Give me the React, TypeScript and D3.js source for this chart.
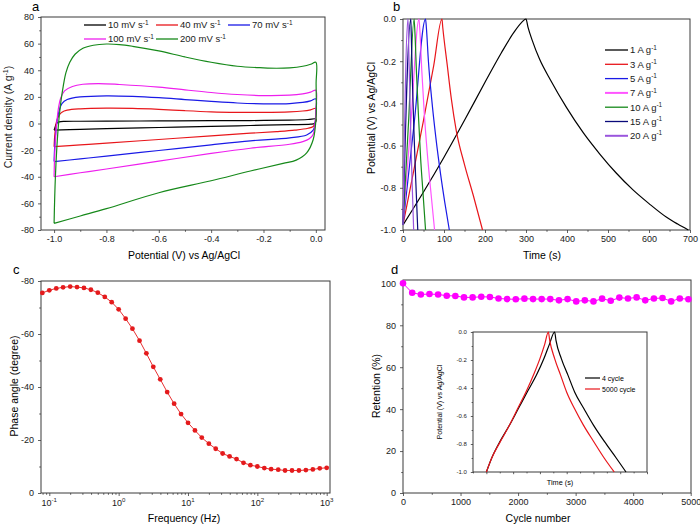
import React, { useEffect, useRef } from 'react';
import * as d3 from 'd3';

type Pt = [number, number];

// ---- panel a: CV loops (potential V, current density A/g)
const cvRates = ['10', '40', '70', '100', '200'];
const cvColors = ['#000000', '#e8161b', '#1a1ae6', '#ee1fee', '#16891a'];
const cv10: Pt[] = [
  [-1.0, -5.0], [-0.995, -2], [-0.99, 0.2], [-0.98, 1.2], [-0.96, 1.6], [-0.9, 1.7], [-0.8, 1.8],
  [-0.6, 1.9], [-0.4, 2.1], [-0.25, 2.2], [-0.1, 2.6], [-0.03, 3.0], [0.0, 3.4],
  [0.0, 1.5], [-0.005, 0], [-0.02, -0.5], [-0.1, -0.9], [-0.25, -1.5], [-0.4, -2.2],
  [-0.6, -3.0], [-0.8, -3.9], [-0.9, -4.4], [-1.0, -5.0],
];
const cv40: Pt[] = [
  [-1.0, -17.4], [-0.997, -8], [-0.99, 2], [-0.98, 6.5], [-0.97, 8.5], [-0.95, 10], [-0.9, 11],
  [-0.8, 11.5], [-0.7, 11.3], [-0.6, 10.6], [-0.5, 9.6], [-0.4, 8.8], [-0.3, 8.4], [-0.2, 8.3],
  [-0.1, 8.7], [-0.05, 9.4], [-0.02, 10.3], [0.0, 11.3],
  [0.0, 5], [-0.003, 0], [-0.01, -2.2], [-0.03, -3.6], [-0.08, -5], [-0.15, -6.1], [-0.25, -7.3],
  [-0.4, -9.3], [-0.6, -12], [-0.8, -14.8], [-0.9, -16.1], [-1.0, -17.4],
];
const cv70: Pt[] = [
  [-1.0, -28.6], [-0.997, -15], [-0.99, 0], [-0.98, 10], [-0.97, 15], [-0.95, 18], [-0.9, 20],
  [-0.8, 20.8], [-0.7, 20.4], [-0.6, 19.4], [-0.5, 18], [-0.4, 16.6], [-0.3, 15.4], [-0.2, 14.8],
  [-0.1, 15], [-0.05, 15.8], [-0.02, 17], [0.0, 18.5],
  [0.0, 8], [-0.003, 0], [-0.01, -5], [-0.035, -8.6], [-0.1, -10.8], [-0.25, -13], [-0.4, -16],
  [-0.6, -20.3], [-0.8, -24.5], [-0.9, -26.6], [-1.0, -28.6],
];
const cv100: Pt[] = [
  [-1.0, -40], [-0.997, -20], [-0.99, 0], [-0.983, 12], [-0.975, 19], [-0.96, 24.5], [-0.93, 27.8],
  [-0.89, 29.5], [-0.83, 30], [-0.75, 29.3], [-0.6, 27.3], [-0.5, 25.3], [-0.4, 23.3], [-0.3, 21.8],
  [-0.2, 21], [-0.1, 21.3], [-0.05, 22.3], [-0.02, 23.6], [0.0, 25],
  [0.0, 10], [-0.003, 0], [-0.01, -8], [-0.025, -11.5], [-0.05, -13.6], [-0.1, -15.6], [-0.25, -18.6],
  [-0.4, -22.5], [-0.6, -28.3], [-0.8, -34.2], [-0.9, -37], [-1.0, -40],
];
const cv200: Pt[] = [
  [-1.0, -75], [-0.995, -40], [-0.985, -5], [-0.975, 15], [-0.965, 28], [-0.955, 38], [-0.94, 46],
  [-0.92, 52], [-0.89, 56.5], [-0.85, 58.8], [-0.8, 59.7], [-0.75, 59.3], [-0.7, 58], [-0.6, 54.5],
  [-0.5, 50], [-0.4, 46], [-0.3, 43], [-0.2, 41.8], [-0.15, 41.5], [-0.1, 41.8], [-0.05, 43],
  [-0.02, 44.5], [0.0, 46],
  [0.001, 30], [0.001, 5], [-0.01, -12], [-0.035, -22], [-0.075, -27.5], [-0.125, -30], [-0.25, -35.7],
  [-0.4, -43], [-0.6, -52], [-0.8, -64], [-0.9, -69.5], [-1.0, -75],
];
const cvCurves = [cv10, cv40, cv70, cv100, cv200];

// ---- panel b: charge/discharge (time s, potential V)
const gcdLabels = ['1', '3', '5', '7', '10', '15', '20'];
const gcdColors = ['#000000', '#e8161b', '#1a1ae6', '#ff55ff', '#16891a', '#0a0a7a', '#9a55dd'];
const gcd1: Pt[] = [
  [0, -0.976], [50, -0.82], [100, -0.655], [150, -0.48], [200, -0.3], [240, -0.16], [270, -0.065],
  [290, -0.015], [300, 0], [305, -0.04], [315, -0.1], [333, -0.19], [360, -0.29], [399, -0.42],
  [440, -0.54], [480, -0.64], [520, -0.73], [561, -0.81], [600, -0.875], [643, -0.94],
  [670, -0.972], [696, -1.0],
];
const gcd3: Pt[] = [
  [0, -0.976], [25, -0.73], [50, -0.48], [75, -0.22], [95, 0], [97, -0.04], [108, -0.22],
  [118, -0.38], [130, -0.53], [150, -0.69], [172, -0.84], [194, -1.0],
];
const gcd5: Pt[] = [
  [0, -0.976], [28, -0.48], [55, 0], [57, -0.04], [62, -0.2], [70, -0.38], [80, -0.56],
  [92, -0.74], [102, -0.87], [113, -1.0],
];
const gcd7: Pt[] = [
  [0, -0.976], [20, -0.47], [39, 0], [41, -0.05], [46, -0.25], [52, -0.45], [59, -0.63],
  [67, -0.8], [77, -1.0],
];
const gcd10: Pt[] = [
  [0, -0.976], [14, -0.47], [27, 0], [29, -0.06], [33, -0.26], [38, -0.47], [43, -0.66],
  [49, -0.83], [55, -1.0],
];
const gcd15: Pt[] = [[0, -0.976], [19, 0], [20, -0.06], [23, -0.3], [27, -0.55], [31, -0.76], [36, -1.0]];
const gcd20: Pt[] = [[0, -0.976], [12, 0], [13, -0.06], [16, -0.3], [19, -0.55], [22, -0.76], [26, -1.0]];
const gcdCurves = [gcd1, gcd3, gcd5, gcd7, gcd10, gcd15, gcd20];

// ---- panel c: Bode phase
const freq = [
  0.0794, 0.1, 0.126, 0.158, 0.2, 0.251, 0.316, 0.398, 0.501, 0.631, 0.794, 1, 1.26, 1.58,
  2, 2.51, 3.16, 3.98, 5.01, 6.31, 7.94, 10, 12.6, 15.8, 20, 25.1, 31.6, 39.8, 50.1, 63.1,
  79.4, 100, 126, 158, 200, 251, 316, 398, 501, 631, 794, 1000,
];
const phase = [
  -75.5, -76.5, -77.2, -77.6, -77.9, -77.7, -77.4, -76.7, -75.6, -74, -72, -69.3, -65.8, -62,
  -57.5, -52.7, -47.6, -42.9, -38.1, -33.7, -29.8, -26.5, -23.6, -20.9, -18.6, -16.7, -14.9,
  -13.8, -12.8, -11.4, -10.5, -10.0, -9.4, -9.0, -8.8, -8.5, -8.5, -8.5, -8.65, -8.9, -9.3, -9.5,
];

// ---- panel d: cycling retention
const cycles = [
  0, 160, 310, 460, 610, 760, 910, 1060, 1210, 1360, 1510, 1660, 1810, 1960, 2110, 2260, 2410,
  2560, 2710, 2860, 3010, 3160, 3310, 3460, 3610, 3760, 3910, 4060, 4210, 4360, 4510, 4660, 4810, 4960,
];
const retention = [
  100, 95.5, 94.7, 94.9, 94.7, 94.1, 94.0, 93.3, 93.3, 93.6, 93.5, 92.8, 92.5, 92.4, 92.7, 92.5,
  92.5, 92.5, 91.9, 92.5, 91.4, 91.9, 91.4, 92.7, 91.7, 93.2, 92.8, 93.3, 91.9, 92.8, 93.0, 91.4,
  92.8, 92.4,
];
// inset: 4th vs 5000th cycle
const insetLabels = ['4 cycle', '5000 cycle'];
const insetColors = ['#000000', '#e8161b'];
const inset4: Pt[] = [
  [0, -1.0], [4, -0.9], [10, -0.785], [17, -0.67], [24, -0.545], [31, -0.42], [37.5, -0.306],
  [43, -0.19], [47, -0.09], [51, 0], [52, -0.06], [56, -0.19], [61, -0.31], [66, -0.43],
  [73, -0.55], [80, -0.665], [88, -0.78], [97, -0.9], [104.3, -1.0],
];
const inset5000: Pt[] = [
  [0, -1.0], [4, -0.9], [10, -0.79], [17, -0.67], [23.5, -0.545], [30, -0.42], [35.5, -0.3],
  [40, -0.19], [43.5, -0.09], [46.3, 0], [47.3, -0.06], [51, -0.19], [55.5, -0.31], [60, -0.43],
  [66, -0.55], [72.5, -0.665], [80, -0.78], [88, -0.9], [95.5, -1.0],
];
const insetCurves = [inset4, inset5000];

const FONT = '"Liberation Sans", Arial, Helvetica, sans-serif';
const AX = '#3a3a3a';
const TICK_FS = 9;
const TITLE_FS = 10.5;

const range = (a: number, b: number, s: number) => d3.range(a, b + s / 2, s).map((v) => +v.toFixed(6));

type Sel = d3.Selection<SVGGElement, unknown, null, undefined>;

function drawAxes(
  g: Sel,
  x: any,
  y: any,
  o: {
    xTicks: number[]; xMinor: number[]; yTicks: number[]; yMinor: number[];
    xFmt?: (d: any) => string; yFmt?: (d: any) => string; fs?: number; major?: number; minor?: number;
  },
) {
  const fs = o.fs ?? TICK_FS;
  const major = o.major ?? 3;
  const minor = o.minor ?? 1.8;
  const [left, right] = x.range();
  const [bottom, top] = y.range();
  const style = (a: Sel) => {
    a.select('.domain').remove();
    a.selectAll('line').attr('stroke', AX).attr('stroke-width', 0.8);
    a.selectAll('text').attr('fill', '#1a1a1a').attr('font-size', fs).attr('font-family', FONT);
  };
  const gx = g.append('g').attr('transform', `translate(0,${bottom})`)
    .call(d3.axisBottom(x).tickValues(o.xTicks).tickSize(major).tickPadding(3).tickFormat(o.xFmt ?? (() => '')) as any);
  style(gx);
  const gxm = g.append('g').attr('transform', `translate(0,${bottom})`)
    .call(d3.axisBottom(x).tickValues(o.xMinor).tickSize(minor).tickFormat(() => '') as any);
  style(gxm);
  const gy = g.append('g').attr('transform', `translate(${left},0)`)
    .call(d3.axisLeft(y).tickValues(o.yTicks).tickSize(major).tickPadding(4).tickFormat(o.yFmt ?? (() => '')) as any);
  style(gy);
  const gym = g.append('g').attr('transform', `translate(${left},0)`)
    .call(d3.axisLeft(y).tickValues(o.yMinor).tickSize(minor).tickFormat(() => '') as any);
  style(gym);
  g.append('rect')
    .attr('x', left).attr('y', top).attr('width', right - left).attr('height', bottom - top)
    .attr('fill', 'none').attr('stroke', AX).attr('stroke-width', 1);
}

// text with a superscript part: parts = [text, isSup]
function richText(g: Sel, x: number, y: number, fs: number, parts: [string, boolean][], opts: { anchor?: string; rotate?: boolean } = {}) {
  const t = g.append('text')
    .attr('font-family', FONT).attr('font-size', fs).attr('fill', '#1a1a1a')
    .attr('text-anchor', opts.anchor ?? 'start')
    .attr('transform', opts.rotate ? `translate(${x},${y}) rotate(-90)` : `translate(${x},${y})`);
  let shifted = false;
  parts.forEach(([s, isSup]) => {
    const ts = t.append('tspan').text(s);
    if (isSup && !shifted) { ts.attr('dy', -fs * 0.4).attr('font-size', fs * 0.68); shifted = true; }
    else if (!isSup && shifted) { ts.attr('dy', fs * 0.4); shifted = false; }
  });
  return t;
}

const fmt1 = (d: number) => d.toFixed(1);

const App: React.FC = () => {
  const ref = useRef<SVGSVGElement>(null);

  useEffect(() => {
    const svg = d3.select(ref.current);
    svg.selectAll('*').remove();
    const root = svg.append('g') as unknown as Sel;

    // ---------- a ----------
    {
      const g = root.append('g') as Sel;
      const x = d3.scaleLinear().domain([-1.05, 0.035]).range([41, 325]);
      const y = d3.scaleLinear().domain([-80, 80]).range([230, 17]);
      drawAxes(g, x, y, {
        xTicks: range(-1, 0, 0.2), xMinor: range(-0.9, -0.1, 0.2),
        yTicks: range(-80, 80, 20), yMinor: range(-70, 70, 20),
        xFmt: fmt1, yFmt: (d) => String(d),
      });
      const line = d3.line<Pt>().x((d) => x(d[0])).y((d) => y(d[1])).curve(d3.curveCatmullRom.alpha(0.5));
      cvCurves.forEach((c, i) => {
        g.append('path').attr('d', line(c)).attr('fill', 'none').attr('stroke', cvColors[i]).attr('stroke-width', 1.2);
      });
      const cols = [84, 156, 228];
      cvRates.forEach((r, i) => {
        const row = Math.floor(i / 3);
        const cx = cols[i % 3];
        const ly = 25 + row * 14;
        g.append('line').attr('x1', cx).attr('x2', cx + 22).attr('y1', ly).attr('y2', ly)
          .attr('stroke', cvColors[i]).attr('stroke-width', 1.3);
        richText(g, cx + 24, ly + 3.4, 9.5, [[`${r} mV s`, false], ['-1', true]]);
      });
      g.append('text').attr('x', 32).attr('y', 11).attr('font-family', FONT).attr('font-size', 13).text('a');
      richText(g, 12, 117, TITLE_FS, [['Current density (A g', false], ['-1', true], [')', false]], { anchor: 'middle', rotate: true });
      g.append('text').attr('x', 184).attr('y', 259).attr('text-anchor', 'middle')
        .attr('font-family', FONT).attr('font-size', TITLE_FS).text('Potential (V) vs Ag/AgCl');
    }

    // ---------- b ----------
    {
      const g = root.append('g') as Sel;
      const x = d3.scaleLinear().domain([0, 700]).range([403, 690]);
      const y = d3.scaleLinear().domain([-1, 0]).range([230, 19]);
      drawAxes(g, x, y, {
        xTicks: range(0, 700, 100), xMinor: range(50, 650, 100),
        yTicks: range(-1, 0, 0.2), yMinor: range(-0.9, -0.1, 0.2),
        xFmt: (d) => String(d), yFmt: fmt1,
      });
      const line = d3.line<Pt>().x((d) => x(d[0])).y((d) => y(d[1])).curve(d3.curveMonotoneX);
      gcdCurves.forEach((c, i) => {
        g.append('path').attr('d', line(c)).attr('fill', 'none').attr('stroke', gcdColors[i]).attr('stroke-width', 1.2);
      });
      gcdLabels.forEach((l, i) => {
        const ly = 50 + i * 14.3;
        g.append('line').attr('x1', 605).attr('x2', 628).attr('y1', ly).attr('y2', ly)
          .attr('stroke', gcdColors[i]).attr('stroke-width', i === 3 || i === 6 ? 2 : 1.3);
        richText(g, 630, ly + 3.4, 9.5, [[`${l} A g`, false], ['-1', true]]);
      });
      g.append('text').attr('x', 393).attr('y', 11).attr('font-family', FONT).attr('font-size', 13).text('b');
      g.append('text').attr('transform', 'translate(375,118) rotate(-90)').attr('text-anchor', 'middle')
        .attr('font-family', FONT).attr('font-size', TITLE_FS).text('Potential (V) vs Ag/AgCl');
      g.append('text').attr('x', 542).attr('y', 259).attr('text-anchor', 'middle')
        .attr('font-family', FONT).attr('font-size', TITLE_FS).text('Time (s)');
    }

    // ---------- c ----------
    {
      const g = root.append('g') as Sel;
      const x = d3.scaleLog().domain([0.0759, 1116]).range([41, 330]);
      const y = d3.scaleLinear().domain([0, -80]).range([493, 281]);
      const minorLog: number[] = [];
      [0.01, 0.1, 1, 10, 100].forEach((p) => [2, 3, 4, 5, 6, 7, 8, 9].forEach((m) => {
        const v = p * m;
        if (v > 0.0759 && v < 1116) minorLog.push(v);
      }));
      drawAxes(g, x, y, {
        xTicks: [0.1, 1, 10, 100, 1000], xMinor: minorLog,
        yTicks: range(-80, 0, 20), yMinor: range(-70, -10, 20),
        xFmt: () => '', yFmt: (d) => String(d),
      });
      ['-1', '0', '1', '2', '3'].forEach((e, i) => {
        richText(g, x(Math.pow(10, i - 1)), 506, TICK_FS, [['10', false], [e, true]], { anchor: 'middle' });
      });
      const pts: Pt[] = freq.map((f, i) => [f, phase[i]]);
      const line = d3.line<Pt>().x((d) => x(d[0])).y((d) => y(d[1]));
      g.append('path').attr('d', line(pts)).attr('fill', 'none').attr('stroke', '#e41a1c').attr('stroke-width', 0.9);
      g.selectAll('circle.p').data(pts).enter().append('circle')
        .attr('cx', (d) => x(d[0])).attr('cy', (d) => y(d[1])).attr('r', 2.4).attr('fill', '#e41a1c');
      g.append('text').attr('x', 13).attr('y', 274).attr('font-family', FONT).attr('font-size', 13).text('c');
      g.append('text').attr('transform', 'translate(18,386) rotate(-90)').attr('text-anchor', 'middle')
        .attr('font-family', FONT).attr('font-size', TITLE_FS).text('Phase angle (degree)');
      g.append('text').attr('x', 184).attr('y', 522).attr('text-anchor', 'middle')
        .attr('font-family', FONT).attr('font-size', TITLE_FS).text('Frequency (Hz)');
    }

    // ---------- d ----------
    {
      const g = root.append('g') as Sel;
      const x = d3.scaleLinear().domain([0, 5005]).range([403, 691]);
      const y = d3.scaleLinear().domain([0, 101.6]).range([493, 280]);
      drawAxes(g, x, y, {
        xTicks: range(0, 5000, 1000), xMinor: range(500, 4500, 1000),
        yTicks: range(0, 100, 20), yMinor: range(10, 90, 20),
        xFmt: (d) => String(d), yFmt: (d) => String(d),
      });
      const pts: Pt[] = cycles.map((c, i) => [c, retention[i]]);
      const line = d3.line<Pt>().x((d) => x(d[0])).y((d) => y(d[1]));
      g.append('path').attr('d', line(pts)).attr('fill', 'none').attr('stroke', '#ff00ff').attr('stroke-width', 1);
      g.selectAll('circle.p').data(pts).enter().append('circle')
        .attr('cx', (d) => x(d[0])).attr('cy', (d) => y(d[1])).attr('r', 3.3).attr('fill', '#ff00ff');
      g.append('text').attr('x', 391).attr('y', 274).attr('font-family', FONT).attr('font-size', 13).text('d');
      g.append('text').attr('transform', 'translate(380,386) rotate(-90)').attr('text-anchor', 'middle')
        .attr('font-family', FONT).attr('font-size', TITLE_FS).text('Retention (%)');
      g.append('text').attr('x', 538).attr('y', 522).attr('text-anchor', 'middle')
        .attr('font-family', FONT).attr('font-size', TITLE_FS).text('Cycle number');

      // inset
      const ig = g.append('g') as Sel;
      const ix = d3.scaleLinear().domain([-10, 120]).range([473, 647]);
      const iy = d3.scaleLinear().domain([-1, 0]).range([472, 332]);
      ig.append('rect').attr('x', 473).attr('y', 332).attr('width', 174).attr('height', 140).attr('fill', '#fff');
      drawAxes(ig, ix, iy, {
        xTicks: range(0, 120, 20), xMinor: range(-10, 110, 20),
        yTicks: range(-1, 0, 0.2), yMinor: range(-0.9, -0.1, 0.2),
        yFmt: fmt1, fs: 6, major: 2.2, minor: 1.4,
      });
      const il = d3.line<Pt>().x((d) => ix(d[0])).y((d) => iy(d[1])).curve(d3.curveMonotoneX);
      insetCurves.forEach((c, i) => {
        ig.append('path').attr('d', il(c)).attr('fill', 'none').attr('stroke', insetColors[i]).attr('stroke-width', 1.2);
      });
      insetLabels.forEach((l, i) => {
        const ly = 378 + i * 11;
        ig.append('line').attr('x1', 585).attr('x2', 600).attr('y1', ly).attr('y2', ly)
          .attr('stroke', insetColors[i]).attr('stroke-width', 1.2);
        ig.append('text').attr('x', 602).attr('y', ly + 2.5).attr('font-family', FONT).attr('font-size', 7).text(l);
      });
      ig.append('text').attr('transform', 'translate(442,402) rotate(-90)').attr('text-anchor', 'middle')
        .attr('font-family', FONT).attr('font-size', 7).text('Potential (V) vs Ag/AgCl');
      ig.append('text').attr('x', 560).attr('y', 485).attr('text-anchor', 'middle')
        .attr('font-family', FONT).attr('font-size', 7.3).text('Time (s)');
    }
  }, []);

  return <svg ref={ref} width={700} height={525} style={{ position: 'absolute', left: 0, top: 0, background: '#fff' }} />;
};

export default App;
